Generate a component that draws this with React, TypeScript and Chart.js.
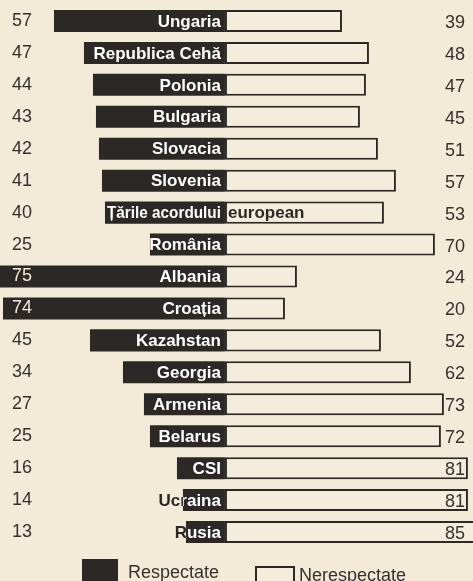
import React, { useEffect, useRef } from "react";
import { Chart, registerables } from "chart.js";

Chart.register(...registerables);

const countries = [
  "Ungaria",
  "Republica Cehă",
  "Polonia",
  "Bulgaria",
  "Slovacia",
  "Slovenia",
  "Țările acordului european",
  "România",
  "Albania",
  "Croația",
  "Kazahstan",
  "Georgia",
  "Armenia",
  "Belarus",
  "CSI",
  "Ucraina",
  "Rusia",
];
const respectate = [57, 47, 44, 43, 42, 41, 40, 25, 75, 74, 45, 34, 27, 25, 16, 14, 13];
const nerespectate = [39, 48, 47, 45, 51, 57, 53, 70, 24, 20, 52, 62, 73, 72, 81, 81, 85];
const seriesNames = ["Respectate", "Nerespectate"];

const BG = "#f3ead7";
const BAR_LIGHT = "#f5eddc";
const DARK = "#2b2826";
const INK = "#35312e";
const FONT = "'Liberation Sans', Arial, Helvetica, sans-serif";

export default function App() {
  const ref = useRef<HTMLCanvasElement | null>(null);

  useEffect(() => {
    document.body.style.margin = "0";
    document.body.style.background = BG;
    if (!ref.current) return;

    const labelsPlugin = {
      id: "divergingLabels",
      afterDatasetsDraw(chart: any) {
        const ctx: CanvasRenderingContext2D = chart.ctx;
        const dark = chart.getDatasetMeta(0).data;
        const light = chart.getDatasetMeta(1).data;
        const W = chart.width;
        const H = chart.height;
        const area = chart.chartArea;

        const rectOf = (bar: any) => {
          const p = bar.getProps(["x", "y", "base", "height"], true);
          const l = Math.min(p.x, p.base);
          const r = Math.max(p.x, p.base);
          return { l, r, t: p.y - p.height / 2, h: p.height, y: p.y, base: p.base };
        };

        const twoTone = (bar: any, draw: () => void, inColor: string, outColor: string) => {
          const rc = rectOf(bar);
          ctx.save();
          ctx.beginPath();
          ctx.rect(rc.l, rc.t, rc.r - rc.l, rc.h);
          ctx.clip();
          ctx.fillStyle = inColor;
          draw();
          ctx.restore();
          ctx.save();
          ctx.beginPath();
          ctx.rect(0, 0, W, H);
          ctx.rect(rc.l, rc.t, rc.r - rc.l, rc.h);
          ctx.clip("evenodd");
          ctx.fillStyle = outColor;
          draw();
          ctx.restore();
        };

        countries.forEach((name, i) => {
          const bar = dark[i];
          const rc = rectOf(bar);
          // country label
          ctx.font = `bold 17px ${FONT}`;
          ctx.textBaseline = "middle";
          const w = ctx.measureText(name).width;
          const startX = rc.base - 4 - w;
          if (startX >= area.left + 45) {
            twoTone(
              bar,
              () => {
                ctx.textAlign = "left";
                ctx.fillText(name, startX, rc.y + 1);
              },
              "#ffffff",
              DARK
            );
          } else {
            // long label: fit all but the last word inside the dark bar,
            // continue with the last word past the centre line
            const cut = name.lastIndexOf(" ");
            const head = name.slice(0, cut);
            const tail = name.slice(cut + 1);
            const room = rc.base - 4 - (rc.l + 2);
            twoTone(
              bar,
              () => {
                ctx.textAlign = "left";
                ctx.fillText(head, rc.l + 2, rc.y + 1, room);
                ctx.fillText(tail, rc.base + 3, rc.y + 1);
              },
              "#ffffff",
              DARK
            );
          }
          // left value
          ctx.font = `18px ${FONT}`;
          twoTone(
            bar,
            () => {
              ctx.textAlign = "left";
              ctx.fillText(String(respectate[i]), area.left + 12, rc.y);
            },
            "#f3ead7",
            INK
          );
          // right value
          const lb = light[i].getProps(["y"], true);
          ctx.save();
          ctx.font = `18px ${FONT}`;
          ctx.textAlign = "right";
          ctx.textBaseline = "middle";
          ctx.fillStyle = INK;
          ctx.fillText(String(nerespectate[i]), W - 8, lb.y + 2);
          ctx.restore();
        });

        // legend
        const ly = area.bottom + 11;
        ctx.save();
        ctx.fillStyle = DARK;
        ctx.fillRect(82, ly, 36, 26);
        ctx.fillStyle = BAR_LIGHT;
        ctx.strokeStyle = DARK;
        ctx.lineWidth = 2;
        ctx.fillRect(256, ly + 8, 38, 24);
        ctx.strokeRect(256, ly + 8, 38, 24);
        ctx.font = `18px ${FONT}`;
        ctx.textAlign = "left";
        ctx.textBaseline = "middle";
        ctx.fillStyle = INK;
        ctx.fillText(seriesNames[0], 128, ly + 14);
        ctx.fillText(seriesNames[1], 299, ly + 17);
        ctx.restore();
      },
    };

    const chart = new Chart(ref.current, {
      type: "bar",
      data: {
        labels: countries,
        datasets: [
          {
            label: seriesNames[0],
            data: respectate.map((v) => -v),
            backgroundColor: DARK,
            borderWidth: 0,
            barPercentage: 0.69,
            categoryPercentage: 1,
          },
          {
            label: seriesNames[1],
            data: nerespectate,
            backgroundColor: BAR_LIGHT,
            borderColor: DARK,
            borderWidth: 2,
            borderSkipped: false,
            barPercentage: 0.69,
            categoryPercentage: 1,
          },
        ],
      },
      options: {
        indexAxis: "y",
        animation: false,
        responsive: true,
        maintainAspectRatio: false,
        events: [],
        layout: { padding: { top: 5, bottom: 33, left: 0, right: 0 } },
        plugins: {
          legend: { display: false },
          tooltip: { enabled: false },
        },
        scales: {
          x: { display: false, stacked: true, min: -75, max: 82.7 },
          y: { display: false, stacked: true },
        },
      },
      plugins: [labelsPlugin],
    } as any);

    return () => chart.destroy();
  }, []);

  return (
    <div style={{ position: "relative", width: 473, height: 581, background: BG }}>
      <canvas ref={ref} />
    </div>
  );
}
